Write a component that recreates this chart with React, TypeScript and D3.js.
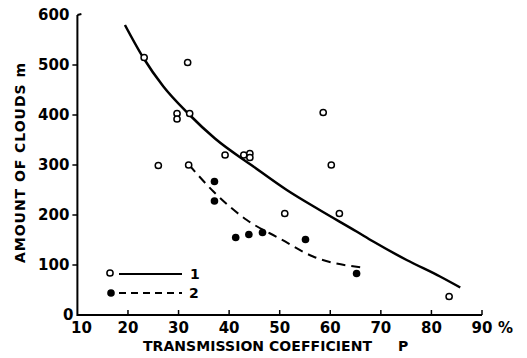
import React, { useEffect, useRef } from "react";
import * as d3 from "d3";

// open circles (series 1): transmission coefficient P (%), amount of clouds m
const openP = [23.2, 26.0, 29.7, 29.7, 31.8, 32.2, 32.0, 39.2, 42.9, 44.1, 44.1, 51.0, 58.6, 60.2, 61.8, 83.5];
const openM = [515, 299, 403, 392, 505, 403, 300, 320, 320, 323, 315, 203, 405, 300, 203, 37];

// filled circles (series 2)
const filledP = [37.1, 37.1, 41.3, 43.9, 46.6, 55.1, 65.2];
const filledM = [267, 228, 155, 161, 165, 151, 83];

// curve 1 (solid)
const curve1P = [19.4, 23.0, 27.0, 31.9, 37.2, 44.8, 51.4, 57.9, 65.2, 68.5, 75.1, 81.7, 85.7];
const curve1M = [580, 515, 457, 403, 353, 297, 250, 210, 167, 147, 110, 77, 55];

// curve 2 (dashed)
const curve2P = [32.1, 36.9, 43.5, 50.0, 56.6, 66.2];
const curve2M = [300, 247, 190, 153, 117, 95];

const xTicks = [10, 20, 30, 40, 50, 60, 70, 80, 90];
const yTicks = [0, 100, 200, 300, 400, 500, 600];

const FONT = "'DejaVu Sans', sans-serif";

const App = () => {
  const svgRef = useRef<SVGSVGElement>(null);

  useEffect(() => {
    const width = 527;
    const height = 358;

    const svg = d3.select(svgRef.current).attr("width", width).attr("height", height);
    svg.selectAll("*").remove();

    const x = d3.scaleLinear().domain([10, 90]).range([77.4, 482]);
    const y = d3.scaleLinear().domain([0, 600]).range([315, 15]);

    // axes
    svg.append("path")
      .attr("d", `M${x(10)},${y(600)}L${x(10)},${y(0)}L${x(90)},${y(0)}`)
      .attr("fill", "none")
      .attr("stroke", "#000")
      .attr("stroke-width", 2);

    svg.append("path")
      .attr("d", `M${x(10)},${y(600)}l4,-1`)
      .attr("stroke", "#000")
      .attr("stroke-width", 2);

    svg.append("g")
      .selectAll("line")
      .data(yTicks.slice(1, -1))
      .enter()
      .append("line")
      .attr("x1", x(10) - 5)
      .attr("x2", x(10))
      .attr("y1", (d) => y(d))
      .attr("y2", (d) => y(d))
      .attr("stroke", "#000")
      .attr("stroke-width", 1.5);

    svg.append("g")
      .selectAll("line")
      .data(xTicks.slice(1))
      .enter()
      .append("line")
      .attr("x1", (d) => x(d))
      .attr("x2", (d) => x(d))
      .attr("y1", y(0))
      .attr("y2", y(0) - 5)
      .attr("stroke", "#000")
      .attr("stroke-width", 1.5);

    // tick labels
    svg.append("g")
      .selectAll("text")
      .data(yTicks)
      .enter()
      .append("text")
      .attr("x", (d) => (d === 0 ? x(10) - 4 : x(10) - 8))
      .attr("y", (d) => y(d) + 5)
      .attr("text-anchor", "end")
      .attr("font-family", FONT)
      .attr("font-weight", "bold")
      .attr("font-size", 15)
      .text((d) => d);

    svg.append("g")
      .selectAll("text")
      .data(xTicks)
      .enter()
      .append("text")
      .attr("x", (d) => x(d) + (d === 10 ? 4 : 0))
      .attr("y", y(0) + 18)
      .attr("text-anchor", "middle")
      .attr("font-family", FONT)
      .attr("font-weight", "bold")
      .attr("font-size", 15)
      .text((d) => d);

    svg.append("text")
      .attr("x", x(90) + 16)
      .attr("y", y(0) + 18)
      .attr("font-family", FONT)
      .attr("font-weight", "bold")
      .attr("font-size", 15)
      .text("%");

    // axis titles
    svg.append("text")
      .attr("x", 143)
      .attr("y", 351)
      .attr("font-family", FONT)
      .attr("font-weight", "bold")
      .attr("font-size", 14)
      .attr("textLength", 229)
      .text("TRANSMISSION COEFFICIENT");

    svg.append("text")
      .attr("x", 398)
      .attr("y", 351)
      .attr("font-family", FONT)
      .attr("font-weight", "bold")
      .attr("font-size", 14)
      .text("P");

    svg.append("text")
      .attr("transform", "translate(25,163) rotate(-90)")
      .attr("text-anchor", "middle")
      .attr("font-family", FONT)
      .attr("font-weight", "bold")
      .attr("font-size", 14)
      .attr("textLength", 200)
      .text("AMOUNT OF CLOUDS m");

    // curves
    const line = d3.line<[number, number]>()
      .x((d) => x(d[0]))
      .y((d) => y(d[1]))
      .curve(d3.curveMonotoneX);

    svg.append("path")
      .datum(curve1P.map((p, i) => [p, curve1M[i]] as [number, number]))
      .attr("d", line)
      .attr("fill", "none")
      .attr("stroke", "#000")
      .attr("stroke-width", 2.5);

    svg.append("path")
      .datum(curve2P.map((p, i) => [p, curve2M[i]] as [number, number]))
      .attr("d", line)
      .attr("fill", "none")
      .attr("stroke", "#000")
      .attr("stroke-width", 2)
      .attr("stroke-dasharray", "9,6");

    // points
    svg.append("g")
      .selectAll("circle")
      .data(openP.map((p, i) => [p, openM[i]]))
      .enter()
      .append("circle")
      .attr("cx", (d) => x(d[0]))
      .attr("cy", (d) => y(d[1]))
      .attr("r", 3.1)
      .attr("fill", "#fff")
      .attr("stroke", "#000")
      .attr("stroke-width", 1.5);

    svg.append("g")
      .selectAll("circle")
      .data(filledP.map((p, i) => [p, filledM[i]]))
      .enter()
      .append("circle")
      .attr("cx", (d) => x(d[0]))
      .attr("cy", (d) => y(d[1]))
      .attr("r", 3.8)
      .attr("fill", "#000");

    // legend
    const lg = svg.append("g");
    lg.append("circle").attr("cx", 110).attr("cy", 273).attr("r", 3.1)
      .attr("fill", "#fff").attr("stroke", "#000").attr("stroke-width", 1.5);
    lg.append("line").attr("x1", 119).attr("x2", 182).attr("y1", 274).attr("y2", 274)
      .attr("stroke", "#000").attr("stroke-width", 2);
    lg.append("text").attr("x", 190).attr("y", 279)
      .attr("font-family", FONT).attr("font-weight", "bold").attr("font-size", 14).text("1");
    lg.append("circle").attr("cx", 111).attr("cy", 293).attr("r", 3.8).attr("fill", "#000");
    lg.append("line").attr("x1", 119).attr("x2", 182).attr("y1", 293).attr("y2", 293)
      .attr("stroke", "#000").attr("stroke-width", 2).attr("stroke-dasharray", "7,5");
    lg.append("text").attr("x", 189).attr("y", 298)
      .attr("font-family", FONT).attr("font-weight", "bold").attr("font-size", 14).text("2");
  }, []);

  return (
    <svg
      ref={svgRef}
      style={{ position: "absolute", left: 0, top: 0, background: "#fff" }}
    ></svg>
  );
};

export default App;
